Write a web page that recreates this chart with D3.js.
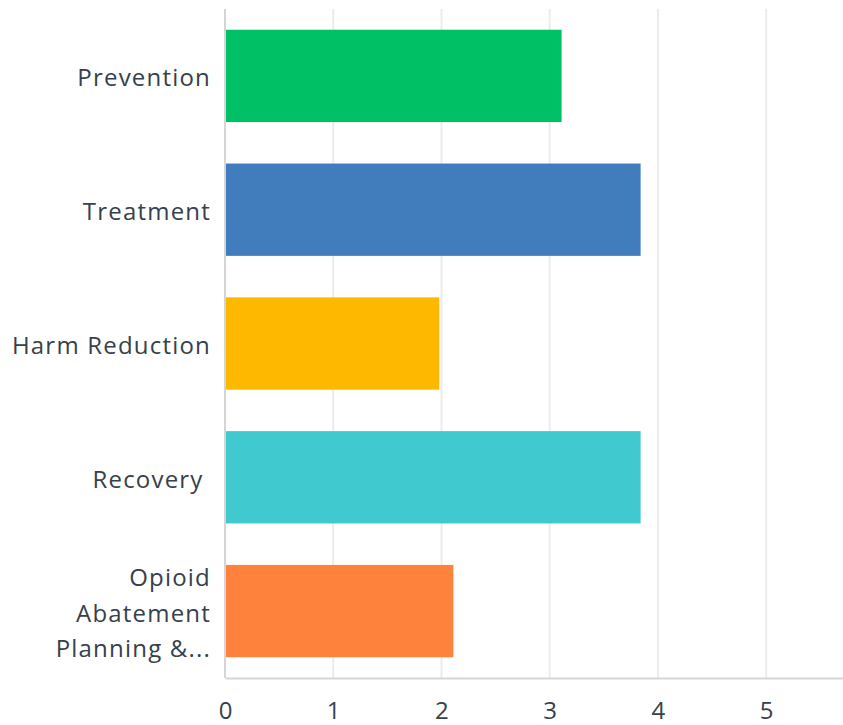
<!DOCTYPE html>
<html>
<head>
<meta charset="utf-8">
<script src="https://cdn.jsdelivr.net/npm/d3@7"></script>
<style>
  body { margin: 0; background: #fff; }
  svg { display: block; }
  .axis_text { font-family: "Open Sans", sans-serif; fill: #36414b; }
</style>
</head>
<body>
<figure id="bars" style="margin:0"></figure>
<script>
// chart values
var categories = ["Prevention", "Treatment", "Harm Reduction", "Recovery ", "Opioid Abatement Planning &..."];
var labelLines = [["Prevention"], ["Treatment"], ["Harm Reduction"], ["Recovery "], ["Opioid", "Abatement", "Planning &..."]];
var averages = [3.11, 3.84, 1.98, 3.84, 2.11];
var barColors = ["#00c065", "#417cbd", "#ffb800", "#40c9cf", "#ff823c"];
var tickValues = [0, 1, 2, 3, 4, 5];

let dimensions = {
	width: 843,
	height: 725,
	margin: { top: 9, right: 0, bottom: 47, left: 225 },
};
dimensions.boundedWidth = dimensions.width - dimensions.margin.left - dimensions.margin.right;
dimensions.boundedHeight = dimensions.height - dimensions.margin.top - dimensions.margin.bottom;

var svg = d3.select("figure#bars")
	.append("svg")
	.attr("width", dimensions.width)
	.attr("height", dimensions.height)
	.append("g")
	.attr("transform", `translate(${dimensions.margin.left},${dimensions.margin.top})`);

var xScale = d3.scaleLinear()
	.domain([0, 5.71])
	.range([0, dimensions.boundedWidth]);

var yScale = d3.scaleBand()
	.domain(categories)
	.range([0, dimensions.boundedHeight])
	.paddingInner(0.31)
	.paddingOuter(0.155);

var data = categories.map((c, i) => ({ cat: c, value: averages[i], color: barColors[i], lines: labelLines[i] }));

// gridlines
svg.append("g")
	.selectAll("line")
	.data(tickValues.slice(1))
	.enter()
	.append("line")
	.attr("x1", d => xScale(d))
	.attr("x2", d => xScale(d))
	.attr("y1", 0)
	.attr("y2", dimensions.boundedHeight)
	.attr("stroke", "#ececec")
	.attr("stroke-width", 2);

svg.selectAll("rect")
	.data(data)
	.enter()
	.append("rect")
	.attr("x", 0)
	.attr("y", d => yScale(d.cat))
	.attr("width", d => xScale(d.value))
	.attr("height", yScale.bandwidth())
	.attr("fill", d => d.color);

// x axis
var xAxis = svg.append("g")
	.attr("transform", `translate(0,${dimensions.boundedHeight})`)
	.call(d3.axisBottom(xScale).tickValues(tickValues).tickSize(0).tickPadding(24).tickFormat(d3.format("d")));
xAxis.select(".domain").attr("stroke", "#d5d5d5").attr("stroke-width", 2);
xAxis.selectAll("text")
	.attr("class", "axis_text")
	.style("font-size", "24px");

// y axis line
svg.append("line")
	.attr("x1", 0).attr("x2", 0)
	.attr("y1", 0).attr("y2", dimensions.boundedHeight)
	.attr("stroke", "#d5d5d5")
	.attr("stroke-width", 2);

// category labels
var lineHeight = 36;
var labels = svg.selectAll(".cat-label")
	.data(data)
	.enter()
	.append("text")
	.attr("class", "axis_text cat-label")
	.attr("text-anchor", "end")
	.style("font-size", "24px")
	.style("letter-spacing", "1.2px")
	.style("white-space", "pre")
	.attr("transform", d => `translate(-14,${yScale(d.cat) + yScale.bandwidth() / 2 + 2})`);

labels.selectAll("tspan")
	.data(d => d.lines.map((t, i) => ({ t: t, i: i, n: d.lines.length })))
	.enter()
	.append("tspan")
	.attr("x", 0)
	.attr("y", d => (d.i - (d.n - 1) / 2) * lineHeight)
	.attr("dy", "0.35em")
	.text(d => d.t);
</script>
</body>
</html>
